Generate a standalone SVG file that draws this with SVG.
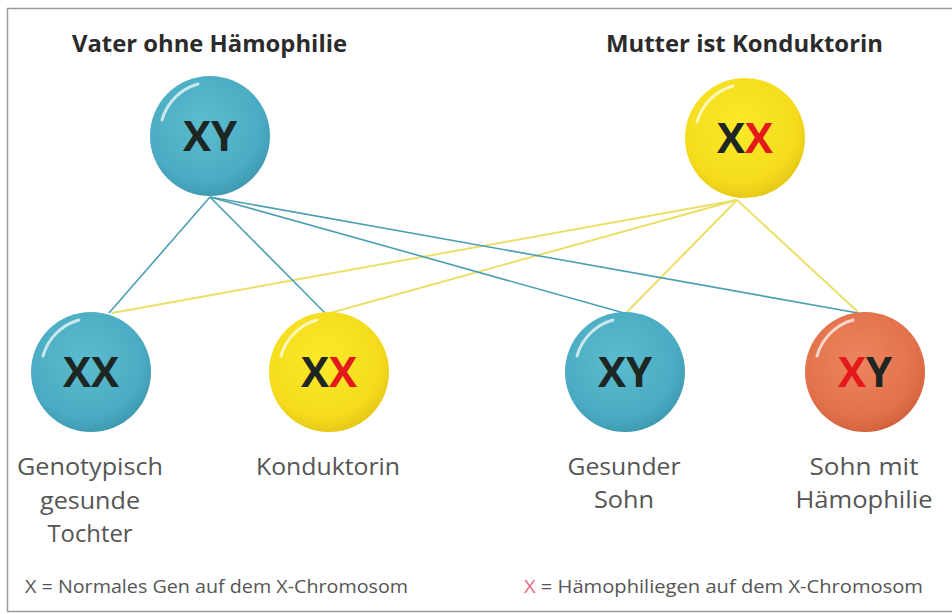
<svg xmlns="http://www.w3.org/2000/svg" width="952" height="614" viewBox="0 0 952 614">
<defs>
<radialGradient id="gTeal" cx="45%" cy="40%" r="60%">
<stop offset="0" stop-color="#5cbccf"/><stop offset="0.8" stop-color="#4aabc2"/><stop offset="1" stop-color="#3f9bb2"/>
</radialGradient>
<radialGradient id="gYellow" cx="45%" cy="40%" r="60%">
<stop offset="0" stop-color="#fbe92a"/><stop offset="0.8" stop-color="#f4dc1c"/><stop offset="1" stop-color="#e7c918"/>
</radialGradient>
<radialGradient id="gOrange" cx="45%" cy="40%" r="60%">
<stop offset="0" stop-color="#ec8560"/><stop offset="0.8" stop-color="#e2714b"/><stop offset="1" stop-color="#d3623e"/>
</radialGradient>
<style>
.title{font-family:"Open Sans","Liberation Sans",sans-serif;font-weight:bold;font-size:23.5px;fill:#2b2b2b}
.gt{font-family:"Open Sans","Liberation Sans",sans-serif;font-weight:bold;font-size:42px;fill:#1e2624;text-anchor:middle}
.red{fill:#e3191c}
.lab{font-family:"Open Sans","Liberation Sans",sans-serif;font-size:23px;fill:#555;text-anchor:middle}
.leg{font-family:"Open Sans","Liberation Sans",sans-serif;font-size:18px;fill:#555}
.hl{fill:none;stroke:#fff;stroke-opacity:0.7;stroke-width:3;stroke-linecap:round}
.t{stroke:#4a9fb2;stroke-width:1.6;fill:none}
.y{stroke:#eadf68;stroke-width:2;fill:none}
</style>
</defs>
<rect x="0" y="0" width="952" height="614" fill="#fff"/>
<rect x="7.5" y="8.5" width="960" height="603" fill="#fff" stroke="#9a9a9a" stroke-width="1.5"/>
<g id="connectors">
<line class="y" x1="737" y1="200" x2="112" y2="313"/>
<line class="y" x1="737" y1="200" x2="330" y2="313"/>
<line class="y" x1="737" y1="200" x2="627" y2="312"/>
<line class="y" x1="737" y1="200" x2="858" y2="312"/>
<line class="t" x1="210" y1="197" x2="109" y2="313"/>
<line class="t" x1="210" y1="197" x2="325" y2="313"/>
<line class="t" x1="210" y1="197" x2="624" y2="313"/>
<line class="t" x1="210" y1="197" x2="858" y2="313"/>
</g>
<text class="title" x="72" y="52" textLength="275" lengthAdjust="spacingAndGlyphs">Vater ohne Hämophilie</text>
<text class="title" x="606" y="52" textLength="277" lengthAdjust="spacingAndGlyphs">Mutter ist Konduktorin</text>
<g id="vater">
<circle cx="210" cy="136" r="60" fill="url(#gTeal)"/>
<path class="hl" d="M162 120 A52 52 0 0 1 198 84"/>
<text class="gt" x="210" y="151">XY</text>
</g>
<g id="mutter">
<circle cx="745" cy="138" r="60" fill="url(#gYellow)"/>
<path class="hl" d="M697 122 A52 52 0 0 1 733 86"/>
<text class="gt" x="745" y="153">X<tspan class="red">X</tspan></text>
</g>
<g id="tochter">
<circle cx="91" cy="372" r="60" fill="url(#gTeal)"/>
<path class="hl" d="M43 356 A52 52 0 0 1 79 320"/>
<text class="gt" x="91" y="387">XX</text>
<text class="lab" x="90" y="475" textLength="146" lengthAdjust="spacingAndGlyphs">Genotypisch</text>
<text class="lab" x="90" y="509" textLength="100" lengthAdjust="spacingAndGlyphs">gesunde</text>
<text class="lab" x="90" y="542" textLength="85" lengthAdjust="spacingAndGlyphs">Tochter</text>
</g>
<g id="konduktorin">
<circle cx="329" cy="372" r="60" fill="url(#gYellow)"/>
<path class="hl" d="M281 356 A52 52 0 0 1 317 320"/>
<text class="gt" x="329" y="387">X<tspan class="red">X</tspan></text>
<text class="lab" x="328" y="475" textLength="144" lengthAdjust="spacingAndGlyphs">Konduktorin</text>
</g>
<g id="sohn">
<circle cx="625" cy="372" r="60" fill="url(#gTeal)"/>
<path class="hl" d="M577 356 A52 52 0 0 1 613 320"/>
<text class="gt" x="625" y="387">XY</text>
<text class="lab" x="624" y="475" textLength="113" lengthAdjust="spacingAndGlyphs">Gesunder</text>
<text class="lab" x="624" y="508" textLength="60" lengthAdjust="spacingAndGlyphs">Sohn</text>
</g>
<g id="sohn-haemophilie">
<circle cx="865" cy="372" r="60" fill="url(#gOrange)"/>
<path class="hl" d="M817 356 A52 52 0 0 1 853 320"/>
<text class="gt" x="865" y="387"><tspan class="red">X</tspan>Y</text>
<text class="lab" x="864" y="475" textLength="109" lengthAdjust="spacingAndGlyphs">Sohn mit</text>
<text class="lab" x="864" y="508" textLength="137" lengthAdjust="spacingAndGlyphs">Hämophilie</text>
</g>
<text class="leg" x="25" y="593" textLength="383" lengthAdjust="spacingAndGlyphs">X = Normales Gen auf dem X-Chromosom</text>
<text class="leg" x="524" y="593" textLength="399" lengthAdjust="spacingAndGlyphs"><tspan fill="#e36b8a">X</tspan> = Hämophiliegen auf dem X-Chromosom</text>
</svg>
